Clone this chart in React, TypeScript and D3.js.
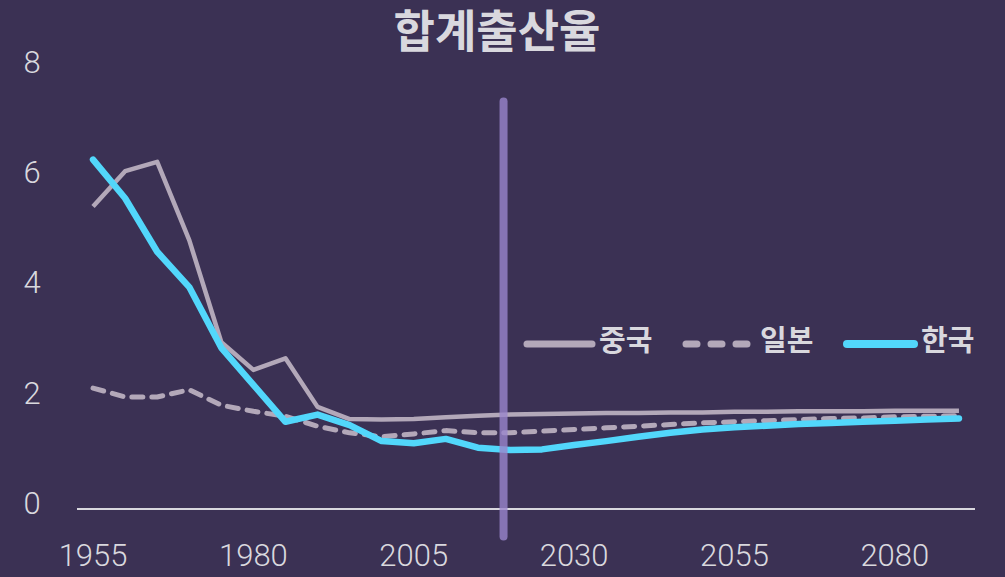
import React from "react";
import * as d3 from "d3";

const years = d3.range(1955, 2091, 5);
const china = [5.48, 6.12, 6.29, 4.87, 3.02, 2.52, 2.73, 1.85, 1.63, 1.62, 1.63, 1.66, 1.69, 1.71, 1.72, 1.73, 1.74, 1.74, 1.75, 1.75, 1.76, 1.76, 1.77, 1.77, 1.77, 1.78, 1.78, 1.78];
const japan = [2.19, 2.03, 2.03, 2.16, 1.88, 1.77, 1.68, 1.50, 1.38, 1.31, 1.36, 1.42, 1.38, 1.38, 1.41, 1.44, 1.47, 1.50, 1.53, 1.56, 1.58, 1.60, 1.62, 1.64, 1.65, 1.67, 1.68, 1.69];
const korea = [6.33, 5.63, 4.66, 4.02, 2.92, 2.25, 1.58, 1.71, 1.52, 1.23, 1.19, 1.27, 1.11, 1.07, 1.08, 1.16, 1.23, 1.31, 1.38, 1.44, 1.48, 1.51, 1.54, 1.56, 1.58, 1.60, 1.62, 1.64];
const xTicks = [1955, 1980, 2005, 2030, 2055, 2080];
const yTicks = [0, 2, 4, 6, 8];
const dividerYear = 2019;
const title = "합계출산율";
const legendNames = ["중국", "일본", "한국"];

const W = 1005;
const H = 577;
const BG = "#3b3154";
const TXT = "#d9d8de";
const C_CHINA = "#b3a8b9";
const C_JAPAN = "#b3a8b9";
const C_KOREA = "#52d7fb";

export default function App() {
  const x = d3.scaleLinear().domain([1952.5, 2092.5]).range([77, 975]);
  const y = d3.scaleLinear().domain([0, 8]).range([509, 67.4]);
  const line = d3
    .line<number>()
    .x((_, i) => x(years[i]))
    .y((d) => y(d));

  const numFont = "Roboto, 'Noto Sans', sans-serif";
  const krFont = "'Noto Sans CJK KR', 'Noto Sans', sans-serif";

  return (
    <svg width={W} height={H} style={{ position: "absolute", left: 0, top: 0, display: "block" }}>
      <rect x={0} y={0} width={W} height={H} fill={BG} />
      <text x={497} y={32} dy="0.35em" textAnchor="middle" fill={TXT} fontFamily={krFont} fontWeight={700} fontSize={45}>
        {title}
      </text>
      {yTicks.map((t) => (
        <text key={t} x={32} y={y(t) - 6} dy="0.36em" textAnchor="middle" fill={TXT} fontFamily={numFont} fontWeight={300} fontSize={31}>
          {t}
        </text>
      ))}
      <line x1={77} x2={975} y1={y(0)} y2={y(0)} stroke={TXT} strokeWidth={2} />
      {xTicks.map((t) => (
        <text key={t} x={x(t)} y={555} dy="0.36em" textAnchor="middle" fill={TXT} fontFamily={numFont} fontWeight={300} fontSize={31}>
          {t}
        </text>
      ))}
      <path d={line(china) || ""} fill="none" stroke={C_CHINA} strokeWidth={4.5} strokeLinejoin="round" />
      <path d={line(japan) || ""} fill="none" stroke={C_JAPAN} strokeWidth={5} strokeDasharray="11 9" strokeLinecap="round" strokeLinejoin="round" />
      <path d={line(korea) || ""} fill="none" stroke={C_KOREA} strokeWidth={6.5} strokeLinecap="round" strokeLinejoin="round" />
      <line x1={x(dividerYear)} x2={x(dividerYear)} y1={y(7.38)} y2={y(-0.5)} stroke="#9a86cc" strokeOpacity={0.8} strokeWidth={8} strokeLinecap="round" />
      {/* legend */}
      <g fontFamily={krFont} fontWeight={700} fontSize={29} fill={TXT}>
        <line x1={527} x2={592} y1={344} y2={344} stroke={C_CHINA} strokeWidth={7} strokeLinecap="round" />
        <text x={599} y={341} dy="0.35em">{legendNames[0]}</text>
        <line x1={686} x2={748} y1={344} y2={344} stroke={C_JAPAN} strokeWidth={7} strokeLinecap="round" strokeDasharray="11 14" />
        <text x={760} y={341} dy="0.35em">{legendNames[1]}</text>
        <line x1={847} x2={914} y1={344} y2={344} stroke={C_KOREA} strokeWidth={8} strokeLinecap="round" />
        <text x={921} y={341} dy="0.35em">{legendNames[2]}</text>
      </g>
    </svg>
  );
}
